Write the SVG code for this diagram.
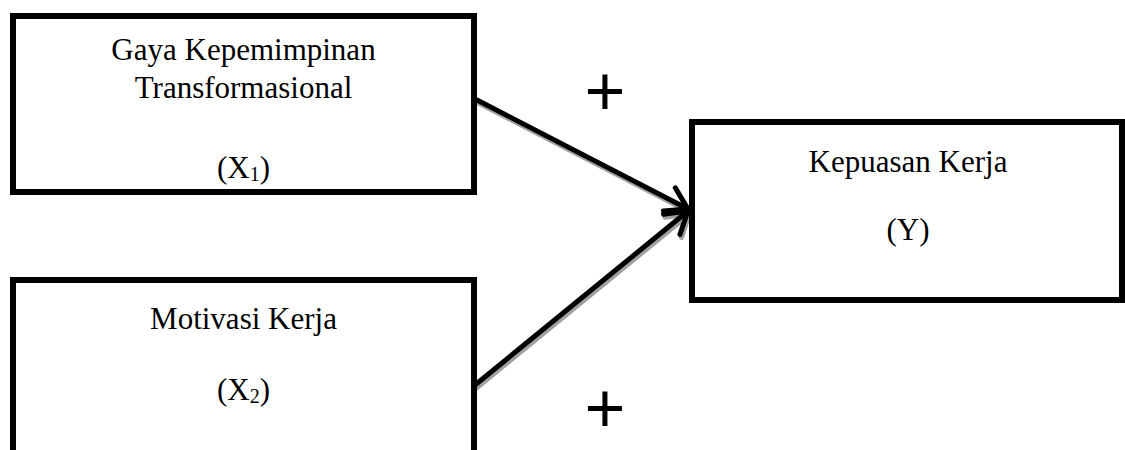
<svg xmlns="http://www.w3.org/2000/svg" width="1125" height="450" viewBox="0 0 1125 450">
  <style>
    .box { fill: #ffffff; stroke: #000000; stroke-width: 6; }
    .lbl { font-family: "Liberation Serif", "Times New Roman", serif; font-size: 31px; fill: #000000; text-anchor: middle; }
    .sub { font-size: 20px; }
    .plus { font-family: "Liberation Sans", Arial, sans-serif; font-size: 70px; fill: #000000; text-anchor: middle; }
    .edge { fill: none; stroke: #000000; stroke-width: 5; stroke-linecap: round; }
    .shadow { fill: none; stroke: #a0a0a0; stroke-width: 5; stroke-linecap: round; }
  </style>
  <defs>
    <marker id="arrow" markerUnits="userSpaceOnUse" markerWidth="40" markerHeight="40" viewBox="-30 -20 40 40" refX="0" refY="0" orient="auto">
      <path d="M-21,-13 L0,0 L-21,13" fill="none" stroke="#000000" stroke-width="5" stroke-linecap="round" stroke-linejoin="round"/>
    </marker>
    <marker id="arrowShadow" markerUnits="userSpaceOnUse" markerWidth="40" markerHeight="40" viewBox="-30 -20 40 40" refX="0" refY="0" orient="auto">
      <path d="M-21,-13 L0,0 L-21,13" fill="none" stroke="#a0a0a0" stroke-width="5" stroke-linecap="round" stroke-linejoin="round"/>
    </marker>
  </defs>
  <rect width="1125" height="450" fill="#ffffff"/>

  <g id="connectors">
    <g transform="translate(1.5,3)">
      <line class="shadow" x1="477" y1="100" x2="688" y2="209" marker-end="url(#arrowShadow)"/>
      <line class="shadow" x1="475" y1="385" x2="688" y2="211" marker-end="url(#arrowShadow)"/>
    </g>
    <line class="edge" x1="477" y1="100" x2="688" y2="209" marker-end="url(#arrow)"/>
    <line class="edge" x1="475" y1="385" x2="688" y2="211" marker-end="url(#arrow)"/>
  </g>

  <g id="node-x1">
    <rect class="box" x="13" y="16" width="461" height="176"/>
    <text class="lbl" x="243.5" y="60">Gaya Kepemimpinan</text>
    <text class="lbl" x="243.5" y="98">Transformasional</text>
    <text class="lbl" x="243.5" y="178">(X<tspan class="sub" dy="3">1</tspan><tspan dy="-3">)</tspan></text>
  </g>

  <g id="node-x2">
    <rect class="box" x="13" y="280" width="461" height="200"/>
    <text class="lbl" x="243.5" y="329">Motivasi Kerja</text>
    <text class="lbl" x="243.5" y="400">(X<tspan class="sub" dy="3">2</tspan><tspan dy="-3">)</tspan></text>
  </g>

  <g id="node-y">
    <rect class="box" x="692" y="122" width="430" height="178"/>
    <text class="lbl" x="908" y="172">Kepuasan Kerja</text>
    <text class="lbl" x="908" y="240">(Y)</text>
  </g>

  <g id="signs">
    <text class="plus" x="605" y="115">+</text>
    <text class="plus" x="605" y="432">+</text>
  </g>
</svg>
